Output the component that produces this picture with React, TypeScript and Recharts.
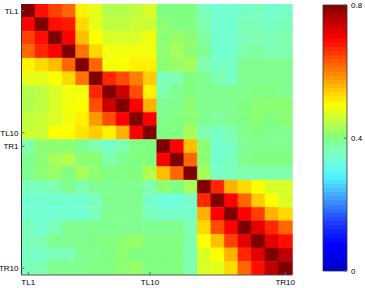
import React from 'react';
import { BarChart, Bar, XAxis, YAxis, Cell } from 'recharts';

const labels = ['TL1','TL2','TL3','TL4','TL5','TL6','TL7','TL8','TL9','TL10','TR1','TR2','TR3','TR4','TR5','TR6','TR7','TR8','TR9','TR10'];
const xTickLabels = ['TL1', 'TL10', 'TR10'];
const yTickLabels = ['TL1', 'TL10', 'TR1', 'TR10'];
const colorbarTicks = [0, 0.4, 0.8];

const rowTL1 = [0.80,0.69,0.65,0.62,0.51,0.48,0.44,0.44,0.45,0.47,0.40,0.40,0.40,0.36,0.34,0.34,0.35,0.36,0.34,0.35];
const rowTL2 = [0.70,0.80,0.69,0.68,0.53,0.48,0.45,0.45,0.46,0.46,0.41,0.40,0.40,0.37,0.34,0.34,0.36,0.36,0.35,0.36];
const rowTL3 = [0.65,0.69,0.80,0.70,0.55,0.50,0.47,0.47,0.47,0.49,0.41,0.42,0.41,0.38,0.34,0.34,0.36,0.37,0.36,0.37];
const rowTL4 = [0.62,0.67,0.70,0.80,0.61,0.53,0.49,0.49,0.49,0.49,0.41,0.43,0.41,0.39,0.34,0.34,0.37,0.38,0.36,0.37];
const rowTL5 = [0.51,0.53,0.55,0.62,0.80,0.62,0.49,0.50,0.51,0.51,0.41,0.42,0.43,0.37,0.35,0.35,0.39,0.39,0.39,0.39];
const rowTL6 = [0.48,0.48,0.50,0.53,0.61,0.80,0.67,0.64,0.60,0.54,0.36,0.37,0.40,0.39,0.37,0.35,0.39,0.39,0.39,0.39];
const rowTL7 = [0.44,0.45,0.47,0.49,0.49,0.67,0.80,0.74,0.64,0.51,0.37,0.39,0.40,0.39,0.39,0.39,0.39,0.40,0.40,0.39];
const rowTL8 = [0.44,0.45,0.47,0.49,0.50,0.64,0.74,0.80,0.70,0.56,0.39,0.39,0.41,0.39,0.39,0.39,0.40,0.41,0.41,0.41];
const rowTL9 = [0.45,0.46,0.47,0.49,0.51,0.58,0.64,0.70,0.80,0.70,0.39,0.40,0.41,0.39,0.38,0.39,0.40,0.41,0.40,0.41];
const rowTL10 = [0.46,0.46,0.50,0.50,0.52,0.54,0.51,0.56,0.70,0.80,0.40,0.40,0.43,0.37,0.35,0.37,0.39,0.40,0.39,0.39];
const rowTR1 = [0.37,0.41,0.41,0.41,0.39,0.37,0.35,0.37,0.40,0.40,0.80,0.70,0.55,0.41,0.34,0.35,0.39,0.39,0.39,0.39];
const rowTR2 = [0.39,0.41,0.43,0.44,0.41,0.41,0.37,0.39,0.40,0.40,0.70,0.80,0.62,0.41,0.34,0.36,0.39,0.40,0.40,0.40];
const rowTR3 = [0.39,0.41,0.42,0.40,0.43,0.41,0.40,0.40,0.40,0.44,0.55,0.62,0.80,0.43,0.35,0.36,0.37,0.37,0.37,0.37];
const rowTR4 = [0.36,0.36,0.37,0.39,0.37,0.39,0.39,0.39,0.39,0.37,0.41,0.40,0.43,0.80,0.67,0.56,0.53,0.50,0.47,0.47];
const rowTR5 = [0.34,0.34,0.34,0.34,0.34,0.36,0.39,0.39,0.39,0.35,0.33,0.33,0.35,0.67,0.80,0.70,0.62,0.54,0.50,0.47];
const rowTR6 = [0.34,0.34,0.34,0.34,0.34,0.36,0.39,0.39,0.39,0.36,0.35,0.35,0.35,0.56,0.70,0.80,0.70,0.65,0.56,0.53];
const rowTR7 = [0.36,0.34,0.36,0.39,0.39,0.39,0.39,0.39,0.39,0.39,0.39,0.39,0.37,0.53,0.64,0.70,0.80,0.72,0.67,0.62];
const rowTR8 = [0.36,0.37,0.39,0.39,0.39,0.40,0.40,0.41,0.42,0.40,0.40,0.40,0.37,0.50,0.55,0.65,0.72,0.80,0.72,0.69];
const rowTR9 = [0.35,0.35,0.36,0.36,0.39,0.39,0.40,0.41,0.40,0.40,0.40,0.40,0.37,0.47,0.50,0.56,0.67,0.72,0.80,0.75];
const rowTR10 = [0.36,0.37,0.39,0.39,0.39,0.40,0.40,0.41,0.42,0.40,0.40,0.40,0.37,0.47,0.48,0.53,0.62,0.69,0.75,0.80];

const matrix = [rowTL1,rowTL2,rowTL3,rowTL4,rowTL5,rowTL6,rowTL7,rowTL8,rowTL9,rowTL10,rowTR1,rowTR2,rowTR3,rowTR4,rowTR5,rowTR6,rowTR7,rowTR8,rowTR9,rowTR10];

const cmapStops: [number, number, number, number][] = [
  [0.0, 0, 0, 200],
  [0.08, 0, 0, 255],
  [0.15, 32, 64, 255],
  [0.22, 64, 160, 255],
  [0.28, 80, 240, 255],
  [0.33, 112, 255, 220],
  [0.37, 128, 255, 176],
  [0.4, 128, 255, 128],
  [0.45, 191, 255, 64],
  [0.5, 255, 255, 0],
  [0.55, 255, 191, 0],
  [0.6, 255, 128, 0],
  [0.65, 255, 64, 0],
  [0.7, 255, 0, 0],
  [0.75, 191, 0, 0],
  [0.8, 128, 0, 0],
];

function cmap(v: number): string {
  const x = Math.max(0, Math.min(0.8, v));
  for (let i = 0; i < cmapStops.length - 1; i++) {
    const a = cmapStops[i];
    const b = cmapStops[i + 1];
    if (x >= a[0] && x <= b[0]) {
      const t = (x - a[0]) / (b[0] - a[0]);
      const r = Math.round(a[1] + (b[1] - a[1]) * t);
      const g = Math.round(a[2] + (b[2] - a[2]) * t);
      const bl = Math.round(a[3] + (b[3] - a[3]) * t);
      return `rgb(${r},${g},${bl})`;
    }
  }
  return 'rgb(128,0,0)';
}

const chartData = labels.map((name) => {
  const o: Record<string, any> = { name };
  labels.forEach((_, i) => { o['r' + i] = 1; });
  return o;
});

const yTicks = yTickLabels.map((l) => labels.indexOf(l) + 0.5);
const FONT = 'Liberation Sans, Arial, Helvetica, sans-serif';
const TICKC = '#666';

const LeftTick = (p: any) => {
  const idx = Math.round(p.payload.value - 0.5);
  return (
    <g>
      <line x1={p.x} x2={p.x + 3} y1={p.y} y2={p.y} stroke={TICKC} />
      <text x={p.x - 3} y={p.y} dy={3} textAnchor="end" fontSize={8} fontFamily={FONT} fill="#000">{labels[idx]}</text>
    </g>
  );
};
const RightTick = (p: any) => (
  <line x1={p.x} x2={p.x - 3} y1={p.y} y2={p.y} stroke={TICKC} />
);
const BottomTick = (p: any) => {
  if (!xTickLabels.includes(p.payload.value)) return <g />;
  return (
    <g>
      <line x1={p.x} x2={p.x} y1={p.y} y2={p.y - 3} stroke={TICKC} />
      <text x={p.x} y={p.y + 10} textAnchor="middle" fontSize={8} fontFamily={FONT} fill="#000">{p.payload.value}</text>
    </g>
  );
};
const TopTick = (p: any) => {
  if (!xTickLabels.includes(p.payload.value)) return <g />;
  return <line x1={p.x} x2={p.x} y1={p.y} y2={p.y + 3} stroke={TICKC} />;
};

const CbLeftTick = (p: any) => (
  <line x1={p.x} x2={p.x + 3} y1={p.y} y2={p.y} stroke={TICKC} />
);
const CbRightTick = (p: any) => (
  <g>
    <line x1={p.x} x2={p.x - 3} y1={p.y} y2={p.y} stroke={TICKC} />
    <text x={p.x + 4} y={p.y} dy={3} textAnchor="start" fontSize={8} fontFamily={FONT} fill="#000">{String(p.payload.value)}</text>
  </g>
);

const colorbarData = [{ name: 'cb', v: 0.8 }];
const nBands = 64;

export default function App() {
  const stops: React.ReactNode[] = [];
  for (let k = 0; k < nBands; k++) {
    const c = cmap(((k + 0.5) / nBands) * 0.8);
    stops.push(<stop key={'a' + k} offset={k / nBands} stopColor={c} />);
    stops.push(<stop key={'b' + k} offset={(k + 1) / nBands} stopColor={c} />);
  }
  return (
    <div style={{ position: 'absolute', left: 0, top: 0, width: 365, height: 288, background: '#fff', fontFamily: FONT }}>
      <div style={{ position: 'absolute', left: 0, top: 0 }}>
        <BarChart width={300} height={288} data={chartData} margin={{ top: 4, right: 8, bottom: 0, left: 0 }} barCategoryGap={0} barGap={0}>
          {labels.map((_, i) => (
            <Bar key={i} dataKey={'r' + i} stackId="s" isAnimationActive={false}>
              {labels.map((__, j) => (
                <Cell key={j} fill={cmap(matrix[i][j])} stroke={cmap(matrix[i][j])} strokeWidth={0.5} />
              ))}
            </Bar>
          ))}
          <XAxis dataKey="name" height={13} interval={0} tickSize={0} tickMargin={0} tickLine={false} axisLine={{ stroke: '#555' }} tick={<BottomTick />} />
          <XAxis xAxisId="top" orientation="top" dataKey="name" height={0} interval={0} tickSize={0} tickMargin={0} tickLine={false} axisLine={{ stroke: '#555' }} tick={<TopTick />} />
          <YAxis type="number" domain={[0, 20]} reversed width={21.5} ticks={yTicks} interval={0} tickSize={0} tickMargin={0} tickLine={false} axisLine={{ stroke: '#333' }} tick={<LeftTick />} allowDataOverflow />
          <YAxis yAxisId="right" orientation="right" type="number" domain={[0, 20]} reversed width={0} ticks={yTicks} interval={0} tickSize={0} tickMargin={0} tickLine={false} axisLine={{ stroke: '#555' }} tick={<RightTick />} allowDataOverflow />
        </BarChart>
      </div>
      <div style={{ position: 'absolute', left: 300, top: 0 }}>
        <BarChart width={65} height={288} data={colorbarData} margin={{ top: 5, right: 0, bottom: 17, left: 0 }} barCategoryGap={0}>
          <defs>
            <linearGradient id="jetGrad" x1="0" y1="1" x2="0" y2="0">
              {stops}
            </linearGradient>
          </defs>
          <XAxis dataKey="name" hide />
          <YAxis yAxisId="l" orientation="left" type="number" width={23} domain={[0, 0.8]} ticks={colorbarTicks} interval={0} tickSize={0} tickMargin={0} tickLine={false} axisLine={false} tick={<CbLeftTick />} />
          <YAxis yAxisId="r" orientation="right" type="number" width={18} domain={[0, 0.8]} ticks={colorbarTicks} interval={0} tickSize={0} tickMargin={0} tickLine={false} axisLine={false} tick={<CbRightTick />} />
          <Bar yAxisId="r" dataKey="v" fill="url(#jetGrad)" stroke="#333" strokeWidth={0.8} isAnimationActive={false} />
        </BarChart>
      </div>
    </div>
  );
}
